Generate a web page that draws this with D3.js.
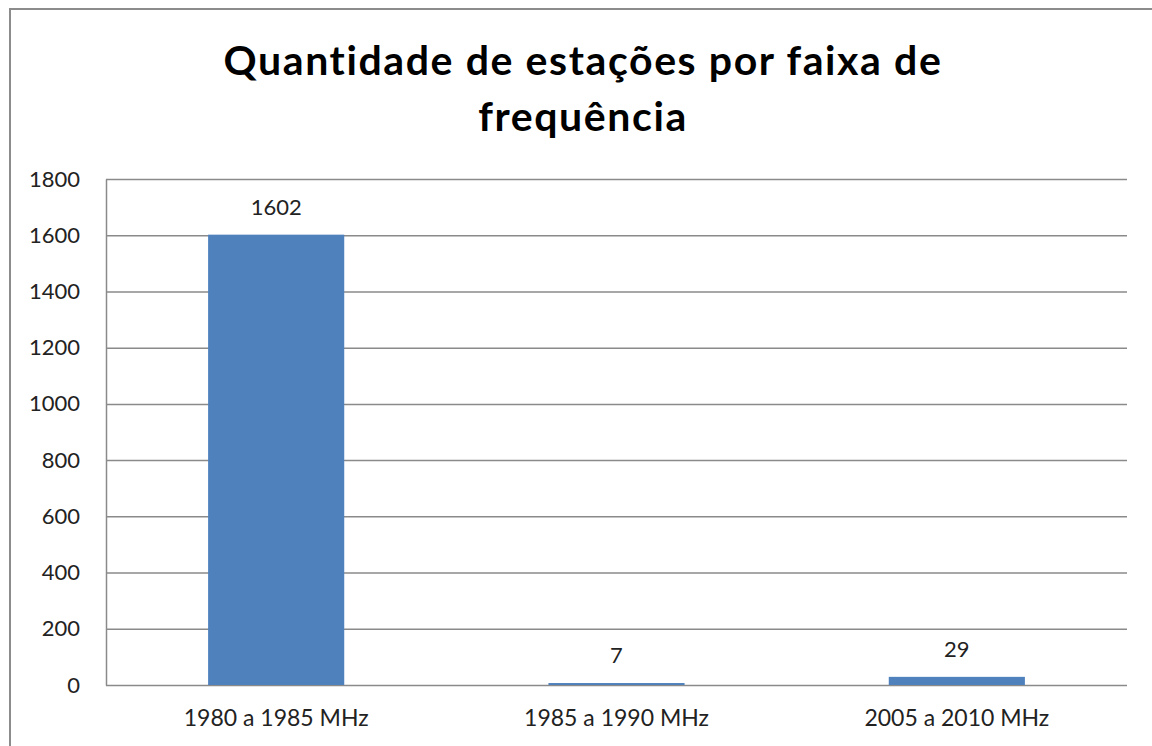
<!DOCTYPE html>
<html>
<head>
<meta charset="utf-8">
<script src="https://cdn.jsdelivr.net/npm/d3@7"></script>
<style>
  body { margin: 0; background: #fff; }
  text { font-family: Lato, "Noto Sans", sans-serif; }
</style>
</head>
<body>
<div id="chart"></div>
<script>
// data
const categories = ["1980 a 1985 MHz", "1985 a 1990 MHz", "2005 a 2010 MHz"];
const stationCounts = [1602, 7, 29];
const yTicks = [0, 200, 400, 600, 800, 1000, 1200, 1400, 1600, 1800];
const titleLines = ["Quantidade de estações por faixa de", "frequência"];

const width = 1152, height = 746;
const margin = { top: 179, right: 25, bottom: 61, left: 106 };

const svg = d3.select("#chart")
    .append("svg")
    .attr("width", width)
    .attr("height", height);

// outer chart frame (runs off right / bottom edges like the screenshot)
svg.append("rect")
    .attr("x", 10).attr("y", 9)
    .attr("width", 1160).attr("height", 760)
    .attr("fill", "#fff")
    .attr("stroke", "#8c8c8c")
    .attr("stroke-width", 2);

// title
const titleX = 583;
svg.selectAll(".title")
    .data(titleLines)
    .enter()
    .append("text")
    .attr("class", "title")
    .attr("x", titleX)
    .attr("y", (d, i) => 75 + i * 56)
    .attr("text-anchor", "middle")
    .attr("font-size", 41)
    .attr("font-weight", "bold")
    .attr("letter-spacing", 1.6)
    .attr("fill", "#000")
    .text(d => d);

const x = d3.scaleBand()
    .domain(categories)
    .range([margin.left, width - margin.right])
    .paddingInner(0.6)
    .paddingOuter(0.3);

const y = d3.scaleLinear()
    .domain([0, 1800])
    .range([height - margin.bottom, margin.top]);

// gridlines
svg.append("g")
    .selectAll("line")
    .data(yTicks)
    .enter()
    .append("line")
    .attr("x1", margin.left)
    .attr("x2", width - margin.right)
    .attr("y1", d => y(d) + 0.5)
    .attr("y2", d => y(d) + 0.5)
    .attr("stroke", "#8a8a8a")
    .attr("stroke-width", 1.5);

// y axis
const yAxis = svg.append("g")
    .attr("transform", `translate(${margin.left},0)`)
    .call(d3.axisLeft(y).tickValues(yTicks).tickFormat(d3.format("d")).tickSize(0).tickPadding(26));
yAxis.select(".domain").attr("stroke", "#8a8a8a").attr("stroke-width", 1.5);
yAxis.selectAll("text")
    .attr("font-size", 22)
    .attr("fill", "#222")
    .style("font-family", "Lato, sans-serif");

// bars
svg.selectAll(".bar")
    .data(stationCounts)
    .enter()
    .append("rect")
    .attr("class", "bar")
    .attr("x", (d, i) => x(categories[i]))
    .attr("width", x.bandwidth())
    .attr("y", d => y(d))
    .attr("height", d => y(0) - y(d))
    .attr("fill", "#4f81bd");

// value labels
svg.selectAll(".val")
    .data(stationCounts)
    .enter()
    .append("text")
    .attr("class", "val")
    .attr("x", (d, i) => x(categories[i]) + x.bandwidth() / 2)
    .attr("y", d => y(d) - 20)
    .attr("text-anchor", "middle")
    .attr("font-size", 22)
    .attr("fill", "#222")
    .text(d => d);

// x axis labels
const xAxis = svg.append("g")
    .attr("transform", `translate(0,${height - margin.bottom})`)
    .call(d3.axisBottom(x).tickSize(0).tickPadding(25));
xAxis.select(".domain").remove();
xAxis.selectAll("text")
    .attr("font-size", 23)
    .attr("fill", "#222")
    .style("font-family", "Lato, sans-serif");
</script>
</body>
</html>
